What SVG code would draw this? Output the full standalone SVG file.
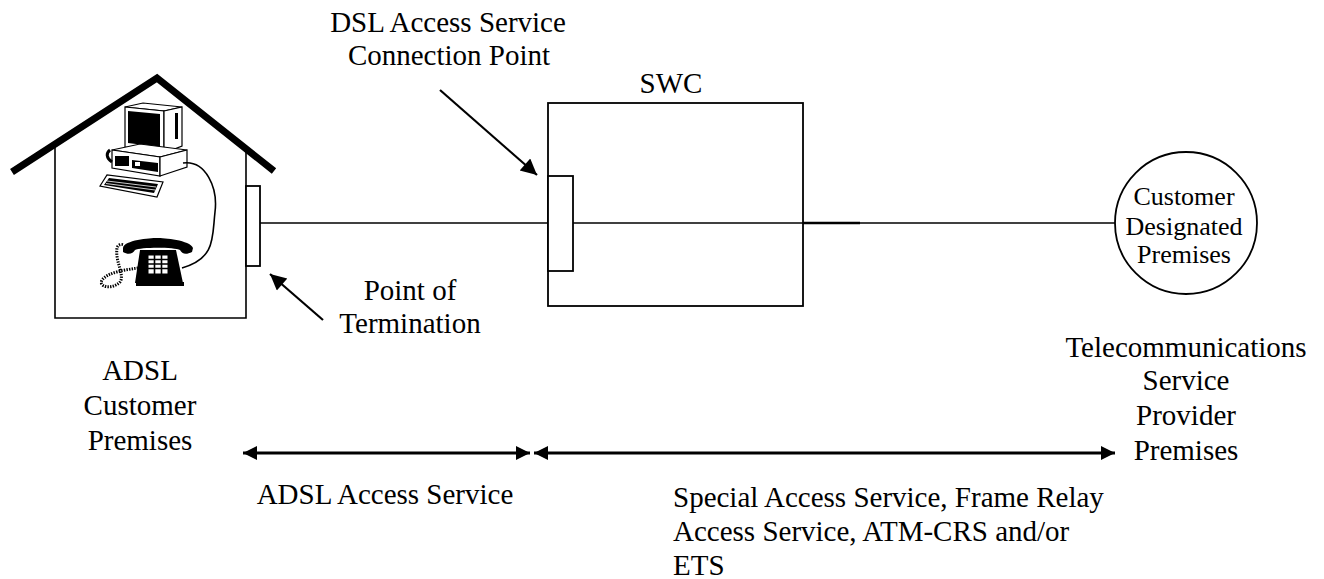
<svg xmlns="http://www.w3.org/2000/svg" width="1324" height="579" viewBox="0 0 1324 579">
<style>
text{font-family:"Liberation Serif","Times New Roman",serif;font-size:29px;fill:#000}
.c{text-anchor:middle}
.ln{stroke:#000;stroke-width:1.6;fill:none}
.box{stroke:#000;stroke-width:1.8;fill:#fff}
.ar{stroke:#000;stroke-width:2.2;fill:none}
.dk{fill:#000}
.wt{fill:#fff;stroke:#000;stroke-width:1.2}
.sm{font-size:26px}
</style>
<defs>
<marker id="ah" viewBox="0 0 10 10" refX="10" refY="5" markerWidth="15" markerHeight="14" markerUnits="userSpaceOnUse" orient="auto-start-reverse">
<path d="M0,0 L10,5 L0,10 z" fill="#000"/>
</marker>
<marker id="ah2" viewBox="0 0 10 10" refX="10" refY="5" markerWidth="20" markerHeight="16" markerUnits="userSpaceOnUse" orient="auto">
<path d="M0,0 L10,5 L0,10 z" fill="#000"/>
</marker>
</defs>
<rect width="1324" height="579" fill="#fff"/>

<g id="house">
<polyline points="55,146 55,318 246,318 246,151" class="ln" stroke-width="2"/>
<polyline points="12,172 157,78 274,171" fill="none" stroke="#000" stroke-width="7"/>
</g>

<g id="computer">
<polygon points="125,107 143,103 182,107 164,111" class="wt"/>
<polygon points="125,107 164,111 164,153 125,147" class="wt"/>
<polygon points="128,111 160,114 160,147 128,143" class="dk"/>
<polygon points="164,111 182,107 182,146 164,153" class="wt"/>
<rect x="175" y="113" width="3" height="26" class="dk"/>
<polygon points="112,150 140,144 187,150 160,157" class="wt"/>
<polygon points="112,150 160,157 160,176 112,168" class="wt"/>
<polygon points="160,157 187,150 187,167 160,176" class="wt"/>
<rect x="115" y="156" width="14" height="10" class="dk"/>
<polygon points="132,160 158,163 158,172 132,168" class="dk"/>
<rect x="135" y="162" width="5" height="4" fill="#fff"/>
<polygon points="100,186 107,175 163,182 157,197" class="wt"/>
<polygon points="104,185 109,178 158,184 154,193" class="dk"/>
<path d="M107,181 L156,187 M106,183.5 L155,190" stroke="#fff" stroke-width="0.8"/>
<path d="M110,150 C106,153 106,158 112,162" fill="none" stroke="#000" stroke-width="3"/>
</g>

<g id="phone">
<path d="M183,163 C206,160 218,188 215,212 C212,238 216,258 182,268" class="ln" stroke-width="1.5"/>
<path d="M138,268 C125,270 108,272 102,280 C98,287 112,290 120,282 C125,275 115,262 117,248 C118,244 122,244 124,245" fill="none" stroke="#000" stroke-width="3" stroke-dasharray="1.4 1.2"/>
<path d="M123,248 C124,240 150,238 157,238 C164,238 190,240 193,248 L192,252 C186,255 182,254 180,250 C175,247 140,247 135,250 C133,254 128,255 123,252 Z" class="dk"/>
<path d="M140,250 L176,250 L183,283 L135,283 Z" class="dk"/>
<rect x="136" y="282" width="48" height="4" class="dk"/>
<rect x="148" y="255" width="20" height="19" fill="#fff" stroke="#000" stroke-width="1"/>
<path d="M148,259.5 H168 M148,264 H168 M148,268.5 H168 M154.5,255 V274 M161.5,255 V274" stroke="#000" stroke-width="1.6"/>
</g>

<g id="termination">
<rect x="246" y="186" width="14" height="80" class="box"/>
</g>

<g id="swc">
<rect x="548" y="103" width="255" height="203" class="box"/>
<rect x="548" y="176" width="25" height="95" class="box"/>
<text x="671" y="93" class="c">SWC</text>
</g>

<g id="cdp">
<circle cx="1186" cy="223" r="71" class="box"/>
<text x="1184" y="205" class="c sm">Customer</text>
<text x="1184" y="235" class="c sm">Designated</text>
<text x="1184" y="263" class="c sm">Premises</text>
</g>

<g id="connectors">
<line x1="260" y1="223" x2="548" y2="223" class="ln"/>
<line x1="573" y1="223" x2="1115" y2="223" class="ln"/>
<line x1="803" y1="223" x2="860" y2="223" stroke="#000" stroke-width="2.6"/>
<line x1="440" y1="90" x2="537" y2="175" class="ar" marker-end="url(#ah2)"/>
<line x1="323" y1="320" x2="270" y2="274" class="ar" marker-end="url(#ah2)"/>
<line x1="243" y1="453" x2="530" y2="453" stroke="#000" stroke-width="3" marker-start="url(#ah)" marker-end="url(#ah)"/>
<line x1="534" y1="453" x2="1115" y2="453" stroke="#000" stroke-width="3" marker-start="url(#ah)" marker-end="url(#ah)"/>
</g>

<g id="labels">
<text x="448" y="32" class="c">DSL Access Service</text>
<text x="449" y="65" class="c">Connection Point</text>
<text x="410" y="300" class="c">Point of</text>
<text x="410" y="333" class="c">Termination</text>
<text x="140" y="380" class="c">ADSL</text>
<text x="140" y="415" class="c">Customer</text>
<text x="140" y="450" class="c">Premises</text>
<text x="1186" y="357" class="c">Telecommunications</text>
<text x="1186" y="390" class="c">Service</text>
<text x="1186" y="425" class="c">Provider</text>
<text x="1186" y="460" class="c">Premises</text>
<text x="385" y="504" class="c">ADSL Access Service</text>
<text x="673" y="507">Special Access Service, Frame Relay</text>
<text x="673" y="541">Access Service, ATM-CRS and/or</text>
<text x="673" y="575">ETS</text>
</g>
</svg>
